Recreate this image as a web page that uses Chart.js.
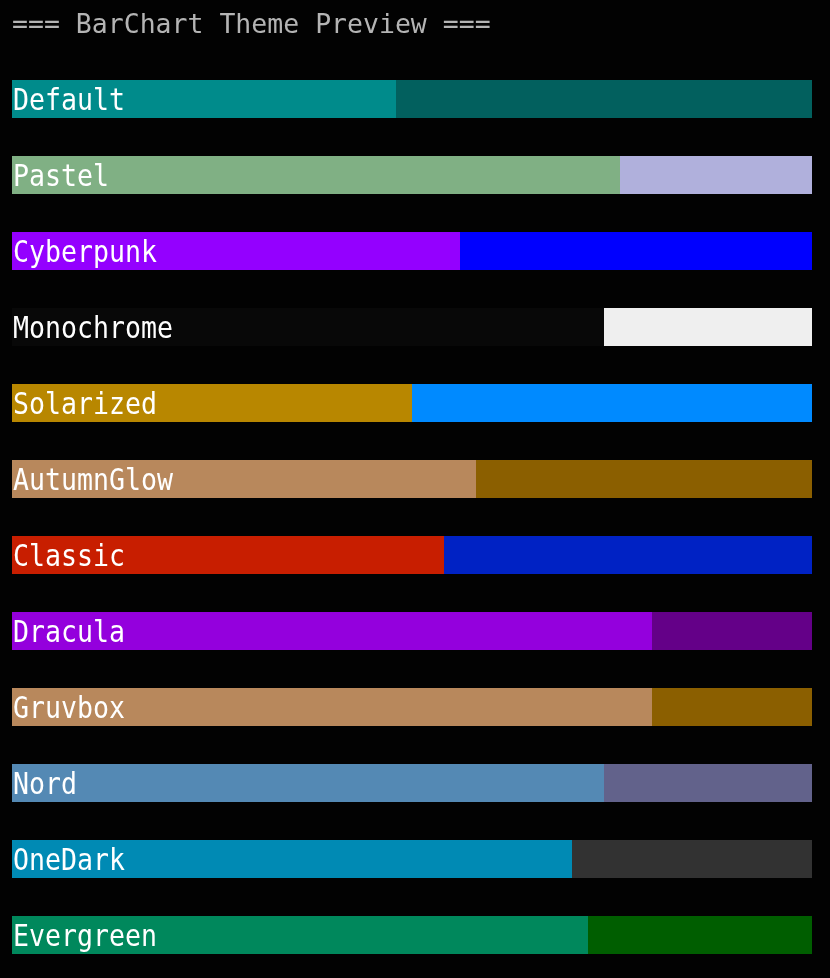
<!DOCTYPE html>
<html>
<head>
<meta charset="utf-8">
<style>
  html, body { margin: 0; padding: 0; background: #020202; }
  canvas { display: block; }
</style>
<script src="https://cdn.jsdelivr.net/npm/chart.js@4"></script>
</head>
<body>
<canvas id="c" width="830" height="978"></canvas>
<script>
const titleText = '=== BarChart Theme Preview ===';
const themes = ['Default','Pastel','Cyberpunk','Monochrome','Solarized','AutumnGlow','Classic','Dracula','Gruvbox','Nord','OneDark','Evergreen'];
const filled = [24, 38, 28, 37, 25, 29, 27, 40, 40, 37, 35, 36];
const remaining = [26, 12, 22, 13, 25, 21, 23, 10, 10, 13, 15, 14];
const axisMax = 50;
const fillColors = ['#008b8b','#80b084','#9400ff','#080808','#b88700','#b8885c','#c81e00','#9400dd','#b8885c','#5489b4','#008ab4','#00885c'];
const emptyColors = ['#02605e','#b0b0dc','#0000ff','#efefef','#008aff','#8b5f00','#0022c4','#640088','#8b5f00','#62628b','#323232','#005e00'];

const labelPlugin = {
  id: 'barLabels',
  beforeDraw(chart) {
    const ctx = chart.ctx;
    ctx.save();
    ctx.fillStyle = '#020202';
    ctx.fillRect(0, 0, chart.width, chart.height);
    ctx.restore();
  },
  afterDatasetsDraw(chart) {
    const ctx = chart.ctx;
    const xs = chart.scales.x, ys = chart.scales.y;
    const sx = 16 / (0.602 * 30);
    ctx.save();
    ctx.fillStyle = '#ffffff';
    ctx.font = '30px "DejaVu Sans Mono"';
    ctx.textBaseline = 'middle';
    ctx.textAlign = 'left';
    themes.forEach((t, i) => {
      const x = xs.getPixelForValue(0) + 1;
      const y = ys.getPixelForValue(i) + 3;
      ctx.save();
      ctx.translate(x, y);
      ctx.scale(sx, 1);
      ctx.fillText(t, 0, 0);
      ctx.restore();
    });
    ctx.restore();
  }
};

new Chart(document.getElementById('c'), {
  type: 'bar',
  data: {
    labels: themes,
    datasets: [
      { label: 'filled', data: filled, backgroundColor: fillColors, borderWidth: 0, barPercentage: 1, categoryPercentage: 0.5 },
      { label: 'remaining', data: remaining, backgroundColor: emptyColors, borderWidth: 0, barPercentage: 1, categoryPercentage: 0.5 }
    ]
  },
  options: {
    indexAxis: 'y',
    responsive: false,
    animation: false,
    layout: { padding: { left: 12, right: 18, top: 0, bottom: 5 } },
    scales: {
      x: { stacked: true, min: 0, max: axisMax, display: false },
      y: { stacked: true, display: false }
    },
    plugins: {
      legend: { display: false },
      tooltip: { enabled: false },
      title: {
        display: true,
        text: titleText,
        align: 'start',
        color: '#b4b4b4',
        font: { family: '"DejaVu Sans Mono"', size: 26.5, weight: 'normal', lineHeight: 1.2 },
        padding: { top: 10.5, bottom: 18.7 }
      }
    }
  },
  plugins: [labelPlugin]
});
</script>
</body>
</html>
